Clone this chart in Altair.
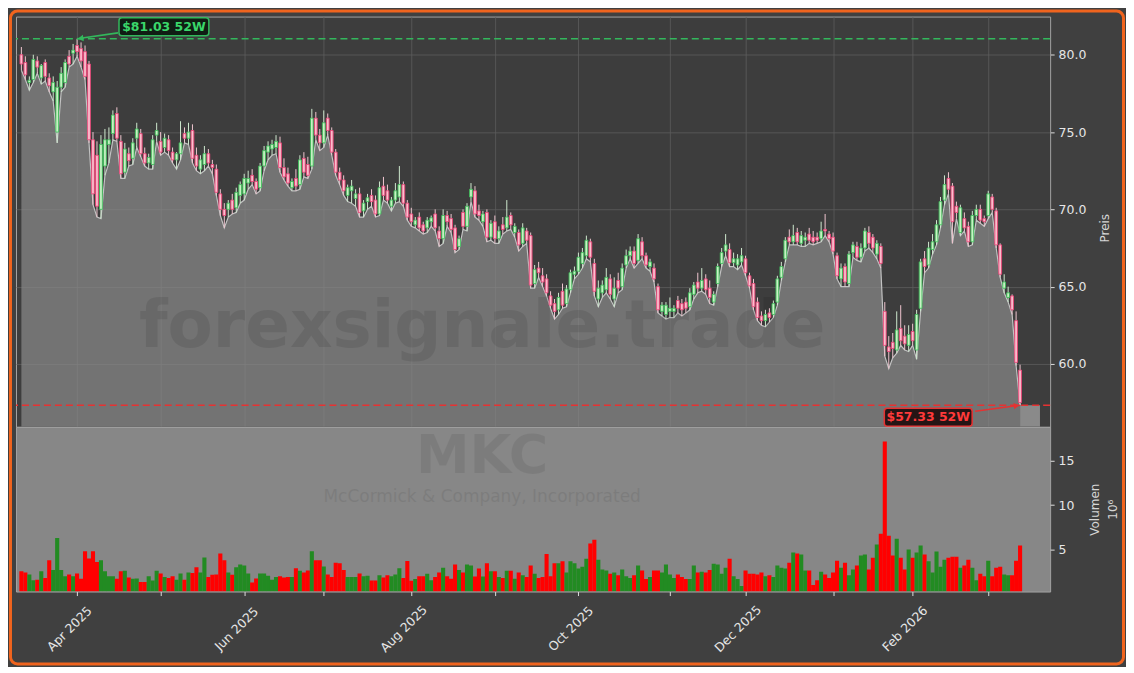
import altair as alt
import pandas as pd

# ---- daily candles: (day, open, high, low, close, volume in millions) ----
mar_2025 = [
    (12, 80.0, 80.5, 79.0, 79.4, 2.55), (13, 79.5, 79.9, 78.4, 78.7, 2.4), (14, 78.2, 78.6, 77.7, 78.35, 2.2),
    (17, 78.4, 80.0, 78.2, 79.7, 1.55), (18, 79.6, 79.9, 78.8, 79.2, 1.6), (19, 78.5, 79.4, 78.1, 79.3, 2.55),
    (20, 79.5, 79.7, 78.3, 78.6, 1.8), (21, 78.5, 78.8, 77.6, 78.0, 3.8), (24, 77.6, 78.6, 77.0, 78.2, 2.7),
    (25, 75.0, 78.3, 74.3, 77.9, 6.3), (26, 77.9, 79.2, 77.6, 78.8, 2.7), (27, 78.2, 79.7, 77.9, 79.5, 2.0),
    (28, 79.9, 80.3, 79.2, 79.4, 2.2), (31, 80.1, 80.7, 79.4, 80.3, 2.0),
]
apr_2025 = [
    (1, 80.6, 81.03, 79.9, 80.2, 2.3), (2, 80.4, 80.8, 79.2, 79.6, 1.7), (3, 80.2, 80.6, 78.4, 78.6, 4.8),
    (4, 79.4, 79.6, 74.3, 74.5, 4.0), (7, 74.5, 75.0, 70.3, 71.0, 4.8), (8, 73.5, 74.4, 69.5, 70.2, 3.6),
    (9, 70.0, 74.8, 69.4, 74.2, 3.8), (10, 72.8, 75.2, 72.2, 74.5, 2.55), (11, 74.2, 75.3, 73.0, 74.5, 2.0),
    (14, 74.9, 76.4, 74.5, 76.1, 2.0), (15, 76.2, 76.6, 74.4, 74.6, 1.7), (16, 74.4, 74.8, 72.0, 72.3, 2.55),
    (17, 72.4, 74.3, 72.0, 73.9, 2.6), (21, 73.6, 74.0, 72.8, 73.15, 1.85), (22, 73.3, 74.6, 72.9, 74.3, 1.7),
    (23, 74.6, 75.6, 74.0, 75.2, 1.75), (24, 74.9, 75.2, 73.4, 73.6, 1.35), (25, 73.6, 74.0, 72.8, 73.0, 1.35),
    (28, 73.0, 73.6, 72.6, 73.35, 2.0), (29, 72.9, 74.8, 72.6, 74.5, 1.5), (30, 74.8, 75.6, 74.4, 75.1, 2.6),
]
may_2025 = [
    (1, 74.4, 75.0, 73.5, 73.7, 2.3), (2, 74.0, 74.9, 73.7, 74.6, 1.9), (5, 74.5, 74.8, 73.5, 73.8, 1.8),
    (6, 73.7, 74.0, 73.0, 73.2, 2.0), (7, 73.2, 73.7, 72.6, 73.6, 1.6), (8, 73.6, 75.7, 73.2, 74.3, 2.3),
    (9, 74.9, 75.3, 74.3, 74.6, 1.6), (12, 74.6, 75.6, 74.2, 75.0, 2.4), (13, 75.1, 75.5, 73.0, 73.3, 2.35),
    (14, 73.5, 74.0, 72.5, 72.8, 3.0), (15, 72.6, 73.5, 72.3, 73.2, 2.4), (16, 72.9, 74.1, 72.5, 73.6, 4.1),
    (19, 73.6, 73.9, 72.8, 73.0, 1.9), (20, 72.9, 73.2, 72.3, 72.7, 2.15), (21, 72.6, 72.9, 70.9, 71.1, 2.2),
    (22, 71.0, 71.3, 69.6, 70.0, 4.55), (23, 70.0, 70.4, 68.8, 69.6, 3.8), (27, 70.0, 70.6, 69.5, 70.4, 2.4),
    (28, 70.6, 71.0, 69.7, 70.0, 2.15), (29, 70.1, 71.4, 69.8, 71.1, 3.0), (30, 70.9, 71.8, 70.4, 71.6, 3.3),
]
jun_2025 = [
    (2, 71.0, 72.3, 70.6, 72.0, 3.2), (3, 71.7, 72.5, 71.3, 72.0, 2.3), (4, 72.2, 72.6, 71.6, 71.8, 1.3),
    (5, 71.8, 72.0, 71.0, 71.3, 1.75), (6, 71.4, 73.0, 71.2, 72.8, 2.3), (9, 72.8, 74.1, 72.5, 73.8, 2.3),
    (10, 73.7, 74.4, 73.2, 74.1, 2.05), (11, 73.9, 74.5, 73.5, 74.2, 1.6), (12, 74.0, 74.8, 73.6, 74.4, 1.9),
    (13, 74.3, 74.7, 72.4, 72.7, 2.0), (16, 72.7, 73.3, 71.9, 72.1, 1.85), (17, 72.3, 72.7, 71.5, 71.7, 1.9),
    (18, 71.4, 72.0, 71.2, 71.8, 1.9), (20, 72.0, 72.6, 71.2, 71.5, 2.9), (23, 71.6, 73.5, 71.3, 73.2, 2.6),
    (24, 73.3, 73.7, 72.1, 72.4, 2.4), (25, 72.9, 73.4, 72.0, 72.2, 2.65), (26, 72.8, 76.5, 72.6, 75.9, 4.8),
    (27, 75.9, 76.3, 74.5, 74.8, 3.8), (30, 74.8, 75.2, 73.8, 74.3, 3.8),
]
jul_2025 = [
    (1, 74.3, 76.4, 74.0, 75.6, 3.1), (2, 75.9, 76.2, 74.8, 75.1, 2.2), (3, 75.1, 75.3, 73.5, 73.7, 1.9),
    (7, 73.7, 73.9, 72.2, 72.4, 3.5), (8, 72.4, 72.7, 71.6, 71.9, 3.45), (9, 71.9, 72.2, 70.9, 71.2, 2.7),
    (10, 70.9, 71.6, 70.5, 71.4, 1.9), (11, 71.2, 71.9, 70.4, 71.5, 1.9), (14, 70.7, 71.3, 70.2, 71.0, 1.9),
    (15, 71.0, 71.4, 69.5, 69.8, 2.3), (16, 69.9, 70.6, 69.5, 70.4, 2.0), (17, 70.5, 71.0, 70.0, 70.75, 2.05),
    (18, 70.9, 71.3, 70.2, 70.5, 1.5), (21, 70.6, 70.9, 69.5, 69.7, 1.5), (22, 69.7, 71.8, 69.6, 71.4, 2.1),
    (23, 71.5, 72.1, 70.6, 70.9, 1.85), (24, 71.2, 71.6, 70.4, 70.6, 2.1), (25, 70.2, 70.8, 69.9, 70.6, 2.0),
    (28, 70.6, 71.7, 70.4, 71.2, 2.2), (29, 70.8, 72.8, 70.5, 71.6, 2.9), (30, 71.6, 71.8, 70.2, 70.4, 1.78),
    (31, 70.4, 70.6, 69.3, 69.5, 3.7),
]
aug_2025 = [
    (1, 69.7, 70.1, 68.9, 69.2, 1.48), (4, 69.0, 69.5, 68.8, 69.3, 1.67), (5, 69.5, 69.8, 68.6, 68.8, 2.0),
    (6, 69.0, 69.2, 68.4, 68.6, 2.0), (7, 68.8, 69.5, 68.5, 69.3, 2.26), (8, 69.2, 69.6, 68.9, 69.45, 1.55),
    (11, 69.7, 70.0, 68.6, 68.8, 1.9), (12, 68.6, 68.9, 67.6, 68.1, 2.4), (13, 68.1, 70.0, 67.8, 69.6, 2.96),
    (14, 69.6, 69.9, 68.9, 69.2, 2.0), (15, 69.4, 69.7, 68.5, 68.7, 1.7), (18, 68.8, 69.0, 67.2, 67.4, 3.3),
    (19, 67.6, 68.3, 67.4, 68.1, 2.7), (20, 69.8, 70.0, 68.7, 68.9, 2.4), (21, 68.9, 70.4, 68.6, 70.2, 3.3),
    (22, 70.8, 71.7, 70.5, 71.3, 3.2), (25, 71.2, 71.5, 69.5, 69.7, 1.95), (26, 69.9, 70.3, 69.3, 69.6, 2.85),
    (27, 69.2, 69.9, 68.9, 69.7, 1.95), (28, 69.8, 70.0, 67.9, 68.2, 3.44), (29, 68.2, 69.3, 68.0, 69.1, 2.56),
]
sep_2025 = [
    (2, 69.2, 69.6, 67.8, 68.1, 2.56), (3, 68.1, 68.9, 67.8, 68.6, 1.9), (4, 69.0, 69.5, 68.4, 68.7, 1.8),
    (5, 68.8, 70.6, 68.6, 69.5, 2.6), (8, 69.6, 69.8, 68.7, 69.0, 2.6), (9, 68.5, 69.1, 68.2, 68.9, 1.7),
    (10, 68.5, 68.7, 67.3, 67.7, 2.4), (11, 67.8, 69.1, 67.6, 68.8, 2.1), (12, 68.6, 68.8, 67.8, 68.0, 1.9),
    (15, 68.3, 68.5, 64.9, 65.1, 3.2), (16, 65.2, 66.4, 64.9, 66.1, 2.26), (17, 66.2, 66.6, 65.6, 65.9, 1.8),
    (18, 65.7, 66.2, 65.0, 65.3, 1.9), (19, 65.5, 65.8, 64.4, 64.6, 4.48), (22, 64.4, 64.7, 63.6, 63.8, 2.0),
    (23, 63.9, 64.2, 62.9, 63.4, 3.44), (24, 63.5, 64.6, 63.2, 64.3, 3.44), (25, 64.7, 65.2, 63.6, 63.8, 3.67),
    (26, 63.9, 65.1, 63.7, 64.85, 2.4), (29, 64.8, 66.1, 64.6, 65.9, 3.67), (30, 65.8, 66.3, 65.5, 66.0, 3.44),
]
oct_2025 = [
    (1, 66.0, 67.2, 65.8, 66.9, 2.85), (2, 66.5, 67.5, 66.2, 67.2, 3.07), (3, 67.0, 68.3, 66.8, 68.0, 3.96),
    (6, 67.9, 68.1, 66.6, 66.9, 5.67), (7, 66.5, 66.8, 64.4, 64.7, 6.1), (8, 64.2, 65.4, 63.7, 64.9, 3.85),
    (9, 64.6, 65.4, 64.3, 65.1, 2.74), (10, 64.8, 66.2, 64.6, 65.6, 2.63), (13, 65.5, 65.8, 64.2, 64.5, 2.26),
    (14, 64.2, 65.6, 63.7, 64.9, 2.4), (15, 65.4, 65.9, 64.6, 64.9, 2.1), (16, 65.0, 66.5, 64.8, 66.2, 2.74),
    (17, 66.4, 67.4, 66.2, 67.0, 2.0), (20, 67.0, 67.6, 66.8, 67.3, 1.78), (21, 67.3, 67.6, 66.2, 66.5, 2.1),
    (22, 66.7, 68.4, 66.5, 68.1, 3.2), (23, 67.9, 68.2, 66.8, 67.0, 2.63), (24, 67.0, 67.2, 66.2, 66.4, 1.67),
    (27, 66.3, 66.8, 66.0, 66.6, 1.9), (28, 66.2, 66.5, 65.3, 65.5, 2.63), (29, 65.0, 65.2, 63.3, 63.5, 2.63),
    (30, 63.4, 64.0, 63.1, 63.8, 2.4), (31, 63.2, 64.0, 62.9, 63.8, 3.3),
]
nov_2025 = [
    (3, 63.4, 64.3, 63.0, 63.6, 2.2), (4, 63.4, 63.8, 63.0, 63.6, 1.78), (5, 64.1, 64.4, 63.3, 63.6, 2.2),
    (6, 63.9, 64.2, 63.1, 63.5, 1.9), (7, 64.0, 64.3, 63.3, 63.6, 1.67), (10, 63.7, 64.9, 63.5, 64.6, 1.67),
    (11, 64.5, 65.3, 64.2, 65.1, 3.2), (12, 65.3, 65.9, 64.6, 64.9, 2.4), (13, 64.9, 66.2, 64.7, 65.4, 2.5),
    (14, 65.5, 65.8, 64.5, 64.8, 2.4), (17, 64.9, 65.4, 63.9, 64.3, 2.7), (18, 64.0, 64.7, 63.8, 64.5, 3.4),
    (19, 65.2, 66.5, 65.0, 66.3, 3.3), (20, 66.5, 67.5, 66.3, 67.2, 2.26), (21, 67.3, 68.4, 67.0, 67.7, 2.96),
    (24, 67.4, 67.8, 66.3, 66.55, 3.96), (25, 66.55, 67.2, 66.3, 66.8, 2.0), (26, 66.4, 67.1, 66.1, 66.8, 1.67),
    (28, 66.6, 67.5, 66.4, 67.0, 0.89),
]
dec_2025 = [
    (1, 66.8, 67.0, 65.7, 65.9, 2.63), (2, 65.7, 65.9, 64.9, 65.05, 2.26), (3, 65.2, 65.5, 63.5, 63.7, 2.26),
    (4, 64.0, 64.3, 62.8, 63.0, 2.2), (5, 63.1, 63.4, 62.5, 62.8, 2.4), (8, 62.8, 63.5, 62.4, 63.2, 2.0),
    (9, 63.3, 63.6, 62.7, 63.0, 2.1), (10, 63.2, 64.1, 63.0, 63.9, 1.9), (11, 64.0, 65.7, 63.8, 65.5, 3.2),
    (12, 65.6, 66.6, 65.4, 66.3, 2.96), (15, 66.8, 68.2, 66.6, 68.0, 2.85), (16, 68.2, 68.7, 67.7, 67.9, 3.52),
    (17, 67.9, 69.0, 67.7, 68.3, 4.67), (18, 68.5, 68.8, 67.7, 67.9, 4.56), (19, 67.8, 68.6, 67.6, 68.3, 4.44),
    (22, 68.0, 68.5, 67.6, 68.2, 2.63), (23, 68.4, 68.8, 67.8, 68.0, 2.63), (24, 68.2, 68.6, 67.7, 67.9, 1.0),
    (26, 68.2, 68.5, 67.8, 68.0, 1.55), (29, 68.1, 69.2, 67.9, 68.6, 2.5), (30, 68.7, 69.7, 68.3, 68.6, 2.2),
    (31, 68.4, 68.6, 67.9, 68.1, 1.78),
]
jan_2026 = [
    (2, 68.2, 68.5, 67.1, 67.3, 2.4), (5, 67.0, 67.2, 65.5, 65.7, 3.74), (6, 65.5, 66.5, 65.0, 66.2, 2.96),
    (7, 66.3, 66.5, 65.0, 65.3, 3.52), (8, 65.2, 67.3, 65.0, 67.1, 2.1), (9, 67.2, 67.9, 66.9, 67.7, 2.74),
    (12, 67.6, 67.9, 66.7, 66.9, 3.2), (13, 66.9, 67.8, 66.6, 67.5, 4.33), (14, 67.5, 68.8, 67.3, 68.6, 4.44),
    (15, 68.5, 68.9, 67.5, 67.8, 2.74), (16, 68.2, 68.4, 67.2, 67.5, 4.07), (20, 67.1, 68.0, 66.8, 67.8, 5.55),
    (21, 67.6, 67.8, 66.2, 66.5, 6.78), (22, 63.4, 64.0, 60.5, 61.2, 17.15), (23, 61.1, 61.8, 59.7, 60.8, 6.55),
    (26, 61.4, 62.0, 60.4, 61.0, 4.33), (27, 60.9, 63.4, 60.7, 62.2, 6.2), (28, 62.3, 63.8, 61.2, 61.5, 4.07),
    (29, 61.8, 62.5, 60.9, 61.3, 2.74), (30, 61.2, 62.5, 60.8, 61.9, 5.0),
]
feb_2026 = [
    (2, 62.1, 62.6, 61.2, 61.5, 4.07), (3, 60.9, 63.5, 60.3, 63.2, 4.67), (4, 63.6, 66.8, 63.4, 66.6, 5.44),
    (5, 66.8, 67.3, 65.9, 66.3, 4.44), (6, 66.4, 67.9, 66.2, 67.5, 3.67), (9, 67.4, 68.4, 67.1, 67.9, 2.4),
    (10, 67.9, 69.3, 67.7, 69.0, 4.78), (11, 69.0, 70.8, 68.8, 70.5, 3.07), (12, 70.6, 72.2, 70.3, 71.6, 3.85),
    (13, 72.0, 72.4, 71.0, 71.3, 4.07), (17, 71.5, 71.7, 67.8, 69.2, 4.18), (18, 70.2, 70.5, 69.4, 69.8, 4.18),
    (19, 68.5, 70.3, 68.3, 70.1, 2.96), (20, 69.4, 69.8, 68.6, 68.8, 3.2), (23, 68.9, 69.2, 67.6, 67.9, 3.85),
    (24, 67.9, 69.9, 67.7, 69.6, 2.96), (25, 69.6, 70.3, 69.3, 70.0, 1.55), (26, 70.0, 70.3, 69.1, 69.3, 2.26),
    (27, 69.4, 69.6, 68.9, 69.2, 2.0),
]
mar_2026 = [
    (2, 69.6, 71.2, 69.4, 71.0, 3.74), (3, 70.8, 71.0, 69.8, 70.0, 2.0), (4, 69.9, 70.1, 67.5, 67.7, 2.96),
    (5, 67.7, 67.8, 65.6, 65.8, 3.07), (6, 64.9, 65.8, 64.6, 65.3, 2.2), (9, 64.3, 65.0, 64.0, 64.6, 2.1),
    (10, 64.4, 64.5, 63.2, 63.5, 2.1), (11, 62.8, 63.4, 59.9, 60.1, 3.74), (12, 59.6, 59.95, 57.33, 57.5, 5.44),
]

months = [
    ("2025-03", mar_2025), ("2025-04", apr_2025), ("2025-05", may_2025), ("2025-06", jun_2025),
    ("2025-07", jul_2025), ("2025-08", aug_2025), ("2025-09", sep_2025), ("2025-10", oct_2025),
    ("2025-11", nov_2025), ("2025-12", dec_2025), ("2026-01", jan_2026), ("2026-02", feb_2026),
    ("2026-03", mar_2026),
]

rows, month_first = [], []
for ym, data in months:
    month_first.append((len(rows), ym))
    for d, o, h, l, c, v in data:
        rows.append(dict(idx=len(rows), date=f"{ym}-{d:02d}", open=o, high=h, low=l,
                         close=c, vol=v, dir="up" if c >= o else "down"))
df = pd.DataFrame(rows)

# month ticks (skip the partial first month); label every other month
tick_idx, expr_parts = [], []
for i, ym in month_first[1:]:
    tick_idx.append(i)
    ts = pd.Timestamp(ym + "-01")
    if ts.month % 2 == 0:
        expr_parts.append(f"datum.value == {i} ? '{ts.strftime('%b %Y')}'")
label_expr = " : ".join(expr_parts) + " : ''"

hi_i = int(df["high"].idxmax()); hi_v = float(df["high"].max())
lo_i = int(df["low"].idxmin()); lo_v = float(df["low"].min())

# ---- layout ----
W, HP, HV = 1036, 411, 165
P_MIN, P_MAX = 55.93, 82.47
V_MIN, V_MAX = 0.27, 18.8
FONT = "DejaVu Sans"
GRID = "#5d5d5d"

xs = alt.Scale(domain=[-0.1, 257.3], nice=False, zero=False)
ys = alt.Scale(domain=[P_MIN, P_MAX], nice=False, zero=False)
vs = alt.Scale(domain=[V_MIN, V_MAX], nice=False, zero=False)

is_up = alt.datum.dir == "up"

x_price = alt.X("idx:Q", scale=xs, title=None,
                axis=alt.Axis(values=tick_idx, grid=True, gridColor=GRID, gridWidth=0.8,
                              labels=False, ticks=False, domain=False))
y_price_axis = alt.Axis(orient="right", values=[60, 65, 70, 75, 80], format=".1f", grid=True,
                        gridColor=GRID, gridWidth=0.8, tickSize=4, labelPadding=4, domain=False,
                        title="Preis", titleAngle=270, titleX=54, titleY=HP / 2 + 6,
                        titleAlign="center", titleBaseline="middle")

base = alt.Chart(df)
one = alt.Chart(pd.DataFrame({"k": [0]}))

area = base.mark_area(color="#8a8a8a", clip=True,
                      line={"color": "#c2c2c2", "strokeWidth": 1.2}).encode(
    x=x_price, y=alt.Y("low:Q", scale=ys, axis=y_price_axis), y2=alt.datum(P_MIN))

ext = alt.Chart(pd.DataFrame({"x": [len(df) - 1], "x2": [len(df) + 4], "y": [lo_v]})).mark_rect(
    fill="#8a8a8a", clip=True).encode(
    x=alt.X("x:Q", scale=xs), x2="x2:Q", y=alt.Y("y:Q", scale=ys), y2=alt.datum(P_MIN))

watermark = one.mark_text(text="forexsignale.trade", font=FONT, fontSize=66, fontWeight="bold",
                          color="#000000", opacity=0.09, align="center", baseline="middle").encode(
    x=alt.value(467), y=alt.value(311))

wicks = base.mark_rule(strokeWidth=1).encode(
    x=x_price, y=alt.Y("low:Q", scale=ys), y2="high:Q",
    color=alt.condition(is_up, alt.value("#cfe9cf"), alt.value("#f0c6d0")))

bodies = base.mark_bar(size=2.8, strokeWidth=0.9, opacity=0.95).encode(
    x=x_price, y=alt.Y("open:Q", scale=ys), y2="close:Q",
    fill=alt.condition(is_up, alt.value("#c9f5c5"), alt.value("#ffbfcf")),
    stroke=alt.condition(is_up, alt.value("#3fc35c"), alt.value("#f0457a")))

hi_df = pd.DataFrame({"idx": [hi_i], "val": [hi_v], "label": [f"${hi_v:.2f} 52W"]})
lo_df = pd.DataFrame({"idx": [lo_i], "val": [lo_v], "label": [f"${lo_v:.2f} 52W"]})
GREEN, RED = "#33b85c", "#e63232"

hi_line = alt.Chart(hi_df).mark_rule(color=GREEN, strokeDash=[7, 4], strokeWidth=1.5).encode(
    y=alt.Y("val:Q", scale=ys))
lo_line = alt.Chart(lo_df).mark_rule(color=RED, strokeDash=[7, 4], strokeWidth=1.5).encode(
    y=alt.Y("val:Q", scale=ys))

def annotation(src, color, text_color, box_fill, box, text_off, arrow_off, head_shape, head_off):
    enc = dict(x=alt.X("idx:Q", scale=xs), y=alt.Y("val:Q", scale=ys))
    rect = src.mark_rect(xOffset=box[0], x2Offset=box[1], yOffset=box[2], y2Offset=box[3],
                         cornerRadius=3, fill=box_fill, fillOpacity=0.9, stroke=color,
                         strokeWidth=1.5).encode(x2="idx:Q", y2="val:Q", **enc)
    txt = src.mark_text(dx=text_off[0], dy=text_off[1], font=FONT, fontSize=12.5, fontWeight="bold",
                        color=text_color, align="center", baseline="middle").encode(text="label:N", **enc)
    arrow = src.mark_rule(color=color, strokeWidth=1.6, x2Offset=arrow_off[0],
                          y2Offset=arrow_off[1]).encode(x2="idx:Q", y2="val:Q", **enc)
    head = src.mark_point(shape=head_shape, filled=True, size=42, angle=352, color=color, opacity=1,
                          xOffset=head_off[0], yOffset=head_off[1]).encode(**enc)
    return [arrow, head, rect, txt]

hi_ann = annotation(alt.Chart(hi_df), GREEN, "#3ad66a", "#0b1a0f", (42, 132, -21, -3), (87, -12),
                    (41, -6), "triangle-left", (3.5, -0.5))
lo_ann = annotation(alt.Chart(lo_df), RED, "#ff3a3a", "#1d0b0b", (-136, -48, 3, 21), (-92, 12),
                    (-45, 6), "triangle-right", (-3.5, 0.5))

border = one.mark_rect(fillOpacity=0, stroke="#f0641e", strokeWidth=3, cornerRadius=7).encode(
    x=alt.value(-5.5), x2=alt.value(1109.5), y=alt.value(-5.5), y2=alt.value(648.5))

price = alt.layer(area, ext, watermark, wicks, bodies, hi_line, lo_line, *hi_ann, *lo_ann, border).properties(
    width=W, height=HP, view=alt.ViewBackground(fill="#3d3d3d"))

# ---- volume panel ----
x_vol = alt.X("idx:Q", scale=xs, title=None,
              axis=alt.Axis(values=tick_idx, labelExpr=label_expr, grid=False, ticks=True, tickSize=4,
                            domain=False, labelAngle=315, labelAlign="center", labelBaseline="middle",
                            labelPadding=33, labelOffset=-8, labelOverlap=False))
vol_bars = base.mark_bar(size=4.1, clip=True).encode(
    x=x_vol,
    y=alt.Y("vol:Q", scale=vs,
            axis=alt.Axis(orient="right", values=[5, 10, 15], format="d", grid=False, tickSize=4,
                          labelPadding=4, domain=False, title=["Volumen", "10⁶"], titleAngle=270,
                          titleX=44, titleY=HV / 2, titleAlign="center", titleBaseline="middle",
                          titleLineHeight=18)),
    y2=alt.datum(V_MIN),
    color=alt.condition(is_up, alt.value("#228b22"), alt.value("#ff0000")))

mkc = one.mark_text(text="MKC", font=FONT, fontSize=54, fontWeight="bold", color="#000000",
                    opacity=0.07, align="center", baseline="middle").encode(x=alt.value(467), y=alt.value(30))
company = one.mark_text(text="McCormick & Company, Incorporated", font=FONT, fontSize=17,
                        color="#000000", opacity=0.07, align="center", baseline="middle").encode(
    x=alt.value(467), y=alt.value(70))

volume = alt.layer(vol_bars, mkc, company).properties(
    width=W, height=HV, view=alt.ViewBackground(fill="#878787"))

chart = alt.vconcat(price, volume, spacing=0, bounds="flush").properties(
    padding=0, background="#404040"
).configure(font=FONT).configure_view(stroke="#a3a3a3", strokeWidth=1).configure_axis(
    labelColor="#e6e6e6", titleColor="#d6d6d6", tickColor="#dddddd", labelFont=FONT,
    titleFont=FONT, labelFontSize=12.5, titleFontSize=12, titleFontWeight="normal")

chart.save("out.html", embed_options={"renderer": "svg", "actions": False})
